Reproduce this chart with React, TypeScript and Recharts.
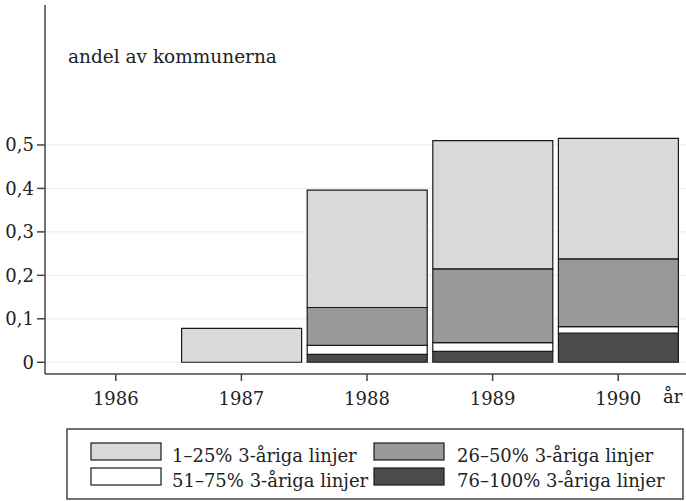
import React from 'react';
import { BarChart, Bar, XAxis, YAxis, ReferenceLine } from 'recharts';

// years on the x axis
const years = ['1986', '1987', '1988', '1989', '1990'];

// share of municipalities, per band of 3-year lines
const share1to25 = [null, 0.078, 0.27, 0.295, 0.277];
const share26to50 = [null, null, 0.087, 0.17, 0.156];
const share51to75 = [null, null, 0.021, 0.02, 0.015];
const share76to100 = [null, null, 0.018, 0.025, 0.067];

const yTicks = [0, 0.1, 0.2, 0.3, 0.4, 0.5];
const yDomain = [-0.027, 0.822];

// stacked bottom to top
const series = [
  { key: 'p76', label: '76–100% 3-åriga linjer', fill: '#4b4b4b', values: share76to100 },
  { key: 'p51', label: '51–75% 3-åriga linjer', fill: '#ffffff', values: share51to75 },
  { key: 'p26', label: '26–50% 3-åriga linjer', fill: '#999999', values: share26to50 },
  { key: 'p1', label: '1–25% 3-åriga linjer', fill: '#d9d9d9', values: share1to25 },
];

// legend order: two columns, two rows
const legendOrder = ['p1', 'p26', 'p51', 'p76'];

const data = years.map((year, i) => {
  const row: Record<string, any> = { year };
  series.forEach((s) => {
    row[s.key] = s.values[i];
  });
  return row;
});

const FONT = '"DejaVu Serif", serif';
const INK = '#222';

const fmt = (v: number) => (v === 0 ? '0' : String(v).replace('.', ','));

const App: React.FC = () => {
  return (
    <div style={{ position: 'absolute', left: 0, top: 0, width: 686, height: 501, background: '#fff' }}>
      <BarChart
        width={686}
        height={501}
        data={data}
        margin={{ top: 5, right: 0, bottom: 0, left: 0 }}
        barCategoryGap={3}
      >
        {/* light grid rows at the y ticks only, kept behind the bars */}
        {yTicks.map((t) => (
          <ReferenceLine key={t} y={t} stroke="#ebebeb" strokeWidth={1} {...({ zIndex: -100 } as any)} />
        ))}
        <XAxis
          dataKey="year"
          height={127}
          padding={{ left: 8, right: 5 }}
          tickSize={7}
          tickMargin={11}
          axisLine={{ stroke: '#444', strokeWidth: 1.5 }}
          tickLine={{ stroke: '#444', strokeWidth: 1.5 }}
          tick={{ fill: INK, fontFamily: FONT, fontSize: 18 }}
        />
        <YAxis
          width={45}
          type="number"
          domain={yDomain}
          ticks={yTicks}
          allowDataOverflow
          tickFormatter={fmt}
          tickSize={8}
          tickMargin={3}
          axisLine={{ stroke: '#444', strokeWidth: 1.5 }}
          tickLine={{ stroke: '#444', strokeWidth: 1.5 }}
          tick={{ fill: INK, fontFamily: FONT, fontSize: 18 }}
        />
        {series.map((s) => (
          <Bar
            key={s.key}
            dataKey={s.key}
            stackId="a"
            fill={s.fill}
            stroke="#1a1a1a"
            strokeWidth={1.2}
            isAnimationActive={false}
          />
        ))}
      </BarChart>

      <svg
        width={686}
        height={501}
        style={{ position: 'absolute', left: 0, top: 0, pointerEvents: 'none' }}
      >
        <text x={68} y={63} fontFamily={FONT} fontSize={18.5} fill={INK}>
          andel av kommunerna
        </text>
        <text x={663} y={403} fontFamily={FONT} fontSize={18} fill={INK}>
          år
        </text>

        {/* legend box */}
        <rect x={67} y={429} width={616} height={70} fill="#fff" stroke="#444" strokeWidth={1.5} />
        {legendOrder.map((key, i) => {
          const s = series.find((d) => d.key === key)!;
          const col = i % 2;
          const row = Math.floor(i / 2);
          const sx = col === 0 ? 91 : 374;
          const sy = row === 0 ? 443 : 468;
          return (
            <g key={key}>
              <rect x={sx} y={sy} width={70} height={17} fill={s.fill} stroke="#1a1a1a" strokeWidth={1.2} />
              <text x={sx + (col === 0 ? 81 : 83)} y={sy + 19} fontFamily={FONT} fontSize={18} fill={INK}>
                {s.label}
              </text>
            </g>
          );
        })}
      </svg>
    </div>
  );
};

export default App;
